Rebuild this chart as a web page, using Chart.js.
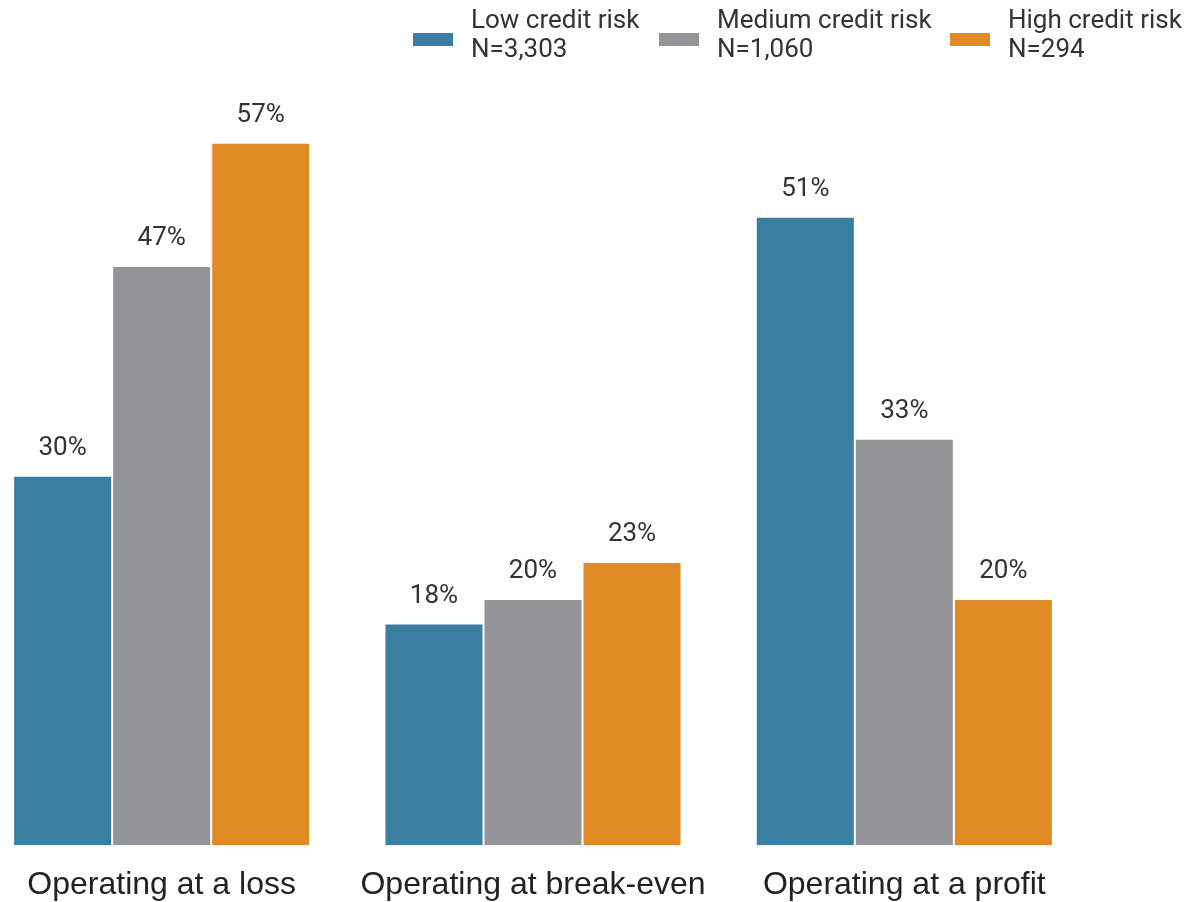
<!DOCTYPE html>
<html>
<head>
<meta charset="utf-8">
<script src="https://cdn.jsdelivr.net/npm/chart.js@4.4.0/dist/chart.umd.min.js"></script>
<style>
  html, body { margin: 0; padding: 0; background: #fff; overflow: hidden; }
  #wrap { position: absolute; left: -25px; top: 0; width: 1222px; height: 924px; }
</style>
</head>
<body>
<div id="wrap"><canvas id="bars"></canvas></div>
<script>
// categories and series
const categories = ['Operating at a loss', 'Operating at break-even', 'Operating at a profit'];
const seriesNames = ['Low credit risk', 'Medium credit risk', 'High credit risk'];
const seriesN = ['N=3,303', 'N=1,060', 'N=294'];
const lowRisk = [30, 18, 51];
const mediumRisk = [47, 20, 33];
const highRisk = [57, 23, 20];
const colors = ['#3A7EA1', '#939598', '#E08A26'];

// page offset of the canvas (it starts 25px left of the window)
const OFFSET = 25;

// percent labels on top of each bar
const valueLabels = {
    id: 'valueLabels',
    afterDatasetsDraw(chart) {
        const ctx = chart.ctx;
        ctx.save();
        ctx.font = '26px Roboto';
        ctx.fillStyle = '#333333';
        ctx.textAlign = 'center';
        ctx.textBaseline = 'alphabetic';
        chart.data.datasets.forEach((ds, i) => {
            chart.getDatasetMeta(i).data.forEach((bar, j) => {
                ctx.fillText(ds.data[j] + '%', bar.x, bar.y - 21);
            });
        });
        ctx.restore();
    }
};

// two line legend at the top right
const topLegend = {
    id: 'topLegend',
    afterDraw(chart) {
        const ctx = chart.ctx;
        const boxX = [413, 659, 950];
        ctx.save();
        ctx.font = '26px Roboto';
        ctx.textBaseline = 'middle';
        ctx.textAlign = 'left';
        chart.data.datasets.forEach((ds, i) => {
            const x = boxX[i] + OFFSET;
            ctx.fillStyle = ds.backgroundColor;
            ctx.fillRect(x, 33, 40, 13);
            ctx.fillStyle = '#333333';
            ctx.fillText(seriesNames[i], x + 58, 21);
            ctx.fillText(seriesN[i], x + 58, 50);
        });
        ctx.restore();
    }
};

const bars = document.getElementById('bars').getContext('2d');
const myChart = new Chart(bars, {
    type: 'bar',
    data: {
        labels: categories,
        datasets: [
            { label: seriesNames[0], data: lowRisk, backgroundColor: colors[0] },
            { label: seriesNames[1], data: mediumRisk, backgroundColor: colors[1] },
            { label: seriesNames[2], data: highRisk, backgroundColor: colors[2] },
        ].map(d => Object.assign(d, {
            borderColor: '#ffffff',
            borderWidth: 1,
            categoryPercentage: 0.8,
            barPercentage: 1.0,
        })),
    },
    options: {
        responsive: true,
        maintainAspectRatio: false,
        animation: false,
        layout: {
            padding: { top: 44, left: 1, right: 107, bottom: 0 },
        },
        scales: {
            x: {
                grid: { display: false, drawTicks: false },
                border: { display: false },
                ticks: {
                    padding: 20,
                    color: '#222222',
                    font: { family: 'Liberation Sans', size: 32 },
                },
            },
            y: {
                display: false,
                min: 0,
                max: 65,
            },
        },
        plugins: {
            legend: { display: false },
            tooltip: { enabled: false },
        },
    },
    plugins: [valueLabels, topLegend],
});
</script>
</body>
</html>
